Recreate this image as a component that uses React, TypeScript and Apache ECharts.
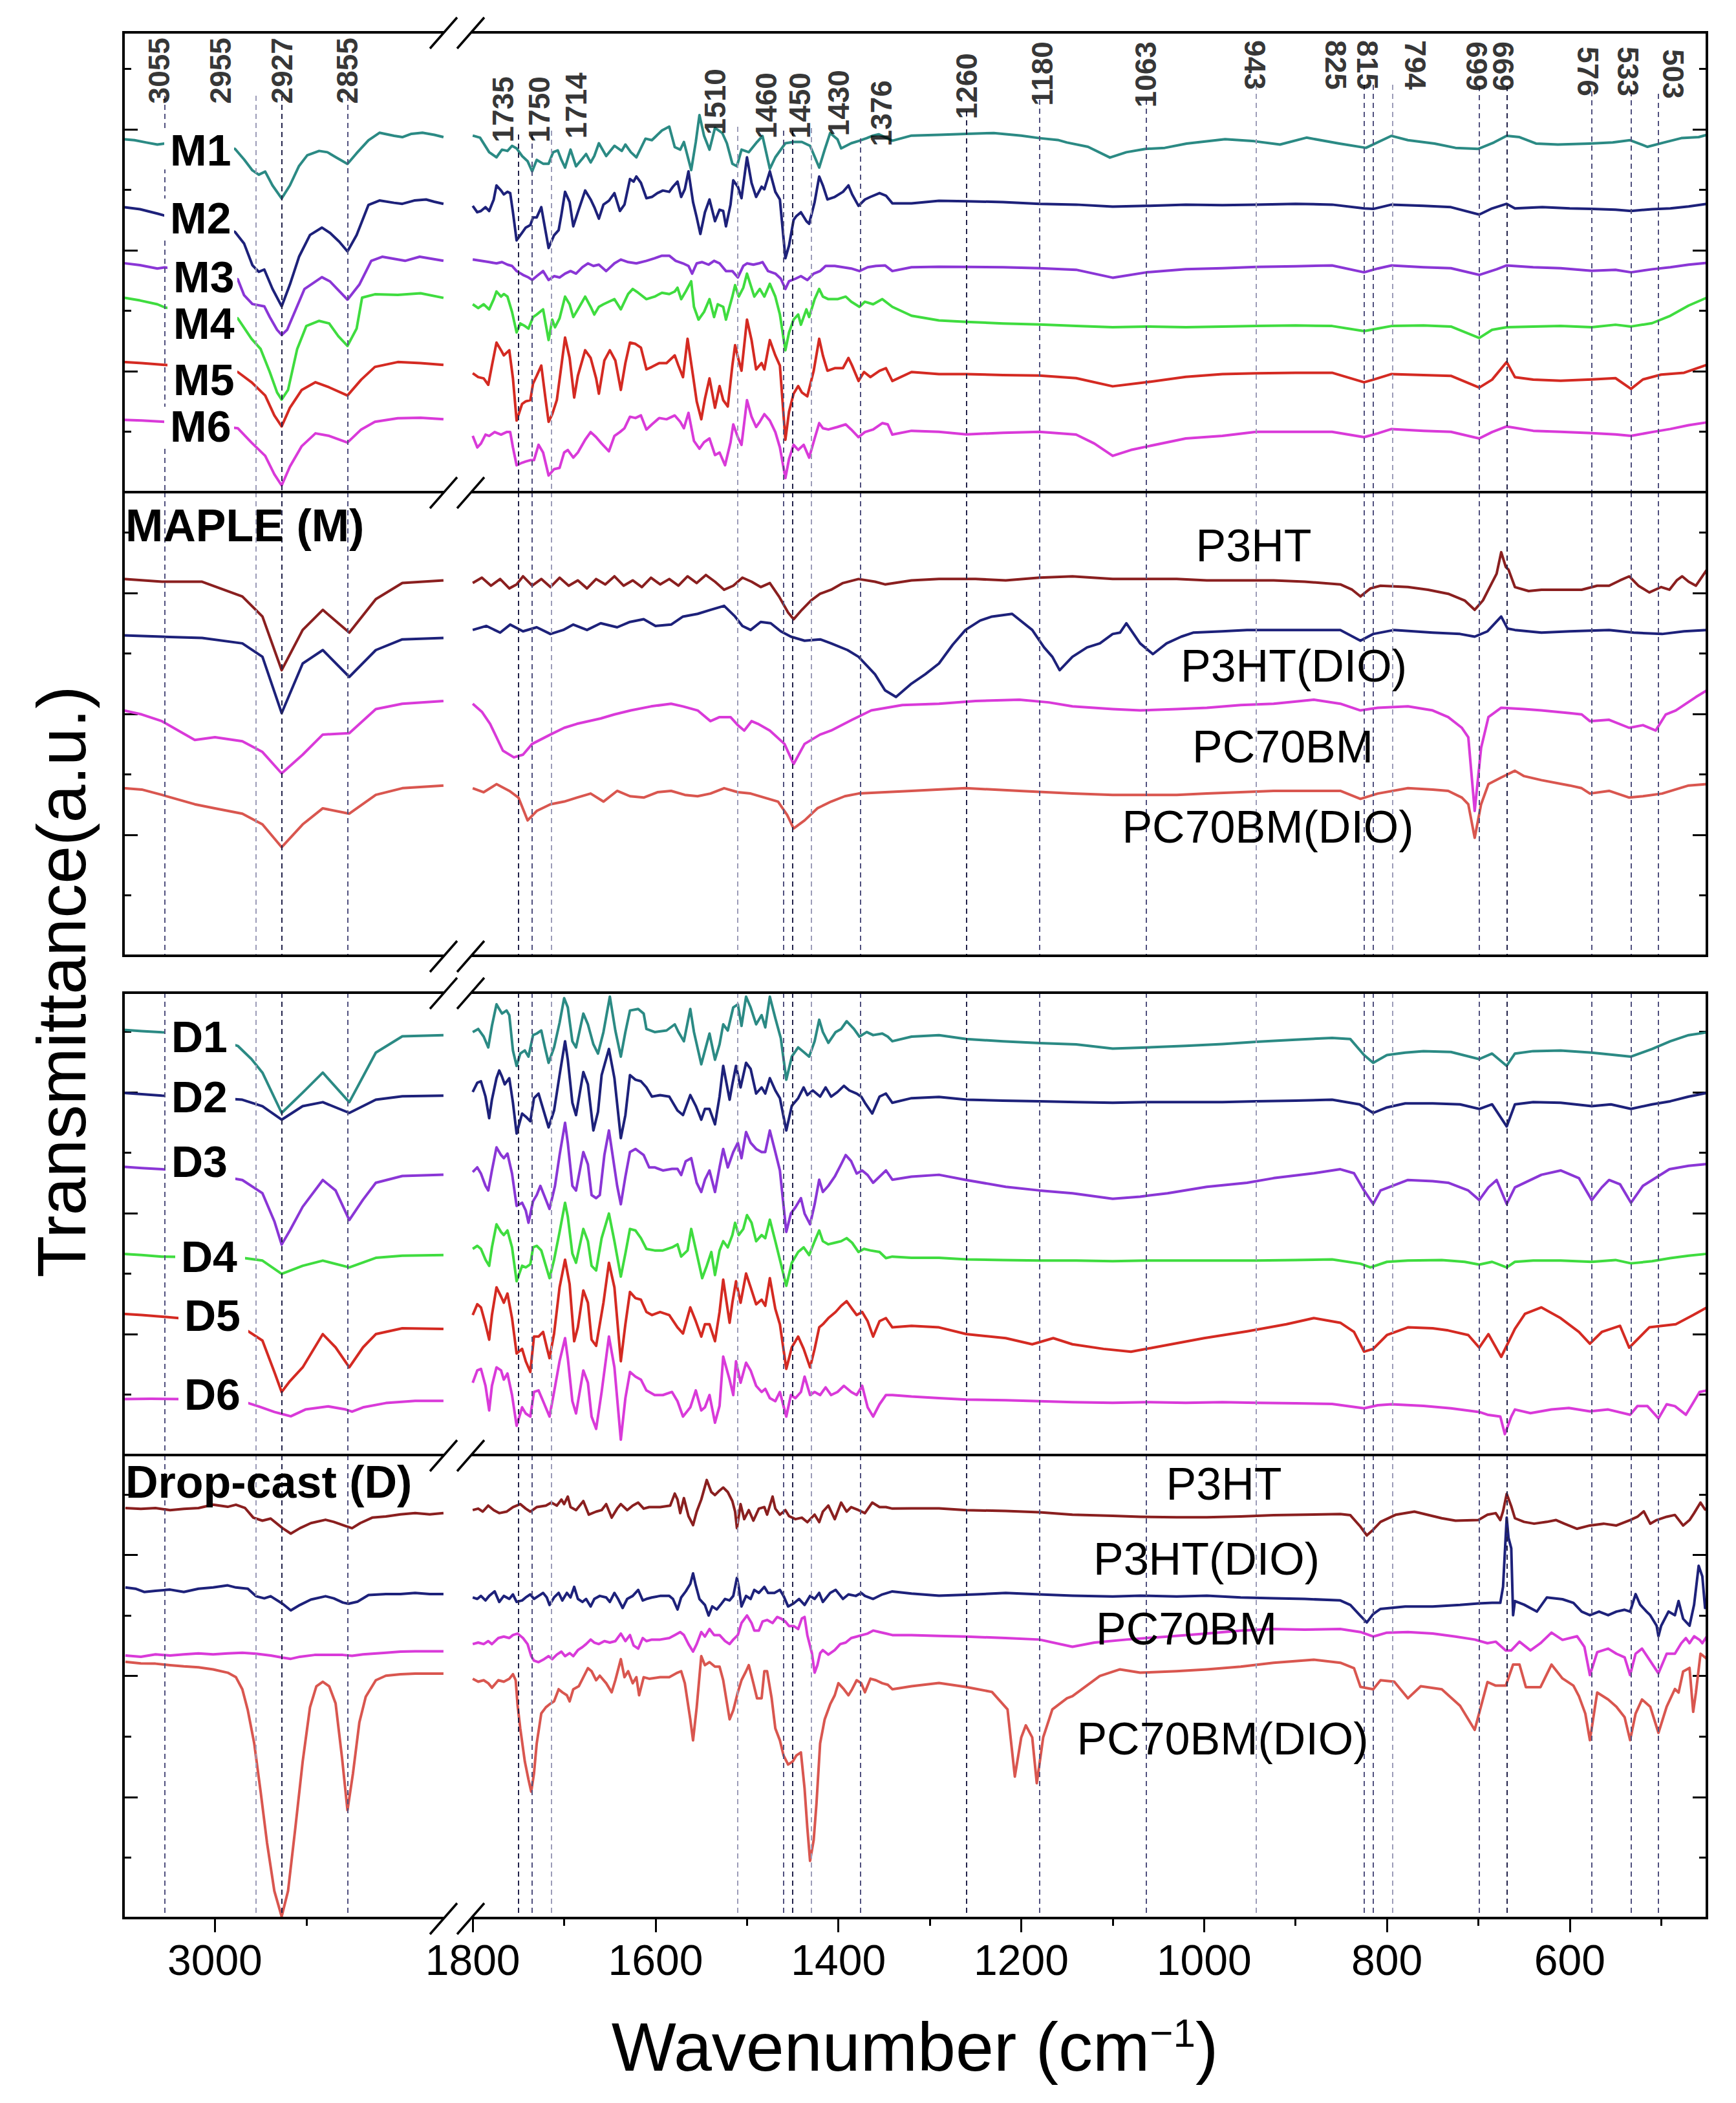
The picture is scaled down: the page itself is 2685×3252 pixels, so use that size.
import React, { useEffect, useRef } from "react";
import * as echarts from "echarts";

const W = 2685;
const H = 3252;
const FONT = "Liberation Sans, Arial, sans-serif";
const NARROW = "'Liberation Sans Narrow', 'Liberation Sans', Arial, sans-serif";

// ---------- axis break: left segment 3100-2750, right segment 1800-450 ----------
const GAP_SHIFT = 918;
const xv = (w: number) => (w > 2000 ? w : w + GAP_SHIFT);
const X_MIN = xv(450);
const X_MAX = 3100;

const majorTicks = [3000, 1800, 1600, 1400, 1200, 1000, 800, 600];
const minorTicks = [2900, 1700, 1500, 1300, 1100, 900, 700, 500];

// ---------- peak guide lines and labels ----------
const peakLines = [3055, 2955, 2927, 2855, 1750, 1735, 1714, 1510, 1460, 1450, 1430, 1376, 1260, 1180, 1063, 943, 825, 815, 794, 699, 669, 576, 533, 503];
const peakTone = ["m", "l", "d", "m", "d", "m", "l", "l", "m", "d", "l", "m", "d", "m", "m", "l", "m", "m", "l", "m", "d", "m", "m", "m"];
const peakLabelText = ["3055", "2955", "2927", "2855", "1735", "1750", "1714", "1510", "1460", "1450", "1430", "1376", "1260", "1180", "1063", "943", "825", "815", "794", "699", "669", "576", "533", "503"];
const peakLabelPos = [3061, 2994, 2927, 2855, 1767, 1727, 1687, 1535, 1479, 1442, 1400, 1353, 1260, 1177, 1064, 944, 856, 821, 769, 702, 673, 580, 536, 487];
const peakLabelTop = [58, 58, 58, 58, 118, 118, 112, 106, 112, 112, 108, 124, 82, 64, 64, 62, 62, 62, 62, 64, 64, 72, 72, 76];
const peakLabelDown = [0, 0, 0, 0, 0, 0, 0, 0, 0, 0, 0, 0, 0, 0, 0, 1, 1, 1, 1, 1, 1, 1, 1, 1];

// ---------- panel P0 : MAPLE samples M1..M6 ----------
const M1_L = [[3100,1381],[3088,1377],[3075,1368],[3063,1360],[3055,1364],[3020,1355],[2978,1343],[2968,1301],[2959,1259],[2952,1242],[2945,1254],[2937,1200],[2927,1149],[2918,1200],[2908,1276],[2899,1318],[2886,1335],[2877,1330],[2867,1309],[2855,1284],[2845,1326],[2832,1377],[2820,1406],[2804,1394],[2795,1389],[2785,1402],[2773,1406],[2760,1398],[2750,1389]];
const M1_R = [[1800,1395],[1792,1387],[1782,1330],[1774,1310],[1768,1340],[1762,1335],[1757,1355],[1752,1345],[1746,1315],[1740,1295],[1735,1255],[1730,1300],[1723,1285],[1717,1285],[1712,1330],[1707,1337],[1703,1300],[1699,1270],[1693,1340],[1687,1275],[1680,1305],[1676,1323],[1671,1290],[1667,1315],[1662,1365],[1654,1315],[1645,1355],[1637,1335],[1633,1360],[1627,1330],[1621,1310],[1611,1383],[1604,1377],[1593,1415],[1585,1430],[1579,1350],[1573,1340],[1569,1370],[1561,1260],[1556,1370],[1552,1475],[1547,1395],[1541,1340],[1535,1425],[1527,1405],[1522,1365],[1516,1285],[1511,1275],[1506,1340],[1498,1330],[1489,1370],[1483,1393],[1475,1265],[1469,1310],[1458,1365],[1449,1370],[1440,1370],[1431,1355],[1421,1270],[1415,1340],[1409,1405],[1401,1380],[1397,1345],[1386,1365],[1377,1375],[1369,1385],[1362,1395],[1356,1400],[1348,1387],[1341,1375],[1320,1395],[1290,1398],[1260,1402],[1230,1405],[1200,1395],[1180,1385],[1160,1378],[1150,1368],[1127,1351],[1103,1309],[1085,1330],[1064,1343],[1043,1347],[1019,1364],[977,1381],[945,1373],[917,1360],[888,1387],[852,1364],[823,1347],[795,1394],[777,1377],[748,1364],[725,1347],[700,1343],[683,1368],[669,1394],[655,1389],[637,1364],[613,1360],[578,1364],[553,1368],[534,1377],[515,1351],[497,1368],[478,1385],[459,1389],[450,1398]];

const M2_L = [[3100,1115],[3082,1107],[3063,1090],[3055,1082],[3020,1060],[2978,1018],[2968,972],[2959,888],[2952,862],[2946,871],[2937,795],[2927,727],[2918,812],[2908,921],[2896,1006],[2883,1035],[2874,1014],[2864,980],[2855,942],[2845,1006],[2832,1124],[2820,1141],[2804,1132],[2795,1128],[2782,1141],[2769,1145],[2760,1136],[2750,1128]];
const M2_R = [[1800,1120],[1795,1095],[1791,1100],[1786,1115],[1782,1100],[1777,1145],[1774,1200],[1769,1180],[1766,1165],[1762,1175],[1759,1170],[1756,1095],[1752,985],[1746,1015],[1742,1035],[1737,1045],[1734,1075],[1730,1075],[1725,1115],[1720,1015],[1717,955],[1711,1005],[1706,1025],[1703,1085],[1699,1175],[1694,1135],[1690,1040],[1685,1095],[1677,1180],[1671,1145],[1667,1115],[1662,1070],[1657,1125],[1651,1140],[1645,1170],[1639,1100],[1634,1125],[1628,1225],[1624,1215],[1621,1235],[1616,1210],[1610,1150],[1604,1155],[1598,1170],[1592,1180],[1585,1175],[1581,1195],[1576,1215],[1572,1155],[1568,1185],[1564,1255],[1559,1135],[1555,1075],[1551,1010],[1546,1095],[1541,1145],[1535,1060],[1530,1105],[1526,1100],[1523,1040],[1518,1125],[1515,1220],[1510,1195],[1506,1150],[1500,1310],[1495,1210],[1490,1155],[1484,1195],[1481,1185],[1475,1255],[1469,1175],[1464,1145],[1458,915],[1454,965],[1449,1065],[1446,1080],[1441,1095],[1435,1060],[1432,1050],[1426,1135],[1421,1235],[1417,1200],[1412,1145],[1404,1155],[1395,1175],[1389,1200],[1385,1165],[1378,1120],[1371,1145],[1365,1155],[1355,1170],[1348,1160],[1341,1130],[1320,1130],[1290,1140],[1260,1138],[1220,1135],[1180,1128],[1140,1125],[1100,1117],[1063,1120],[1020,1125],[980,1123],[943,1125],[900,1128],[860,1125],[825,1110],[815,1108],[795,1125],[760,1120],[730,1115],[699,1086],[685,1110],[669,1128],[660,1110],[630,1115],[600,1110],[576,1108],[550,1105],[533,1100],[510,1107],[490,1110],[470,1118],[450,1128]];

const M3_L = [[3100,896],[3082,888],[3063,875],[3055,879],[3020,862],[2975,833],[2968,770],[2959,736],[2946,727],[2940,685],[2932,635],[2927,615],[2921,635],[2911,719],[2902,795],[2883,841],[2874,824],[2855,753],[2842,812],[2829,905],[2817,921],[2792,905],[2776,921],[2750,905]];
const M3_R = [[1800,910],[1791,905],[1782,900],[1774,895],[1768,900],[1762,890],[1757,885],[1752,865],[1745,850],[1739,840],[1735,830],[1730,845],[1723,865],[1717,830],[1711,845],[1705,840],[1699,855],[1693,865],[1687,855],[1680,880],[1674,895],[1668,885],[1662,890],[1654,865],[1645,895],[1638,910],[1630,900],[1621,895],[1610,905],[1601,915],[1593,925],[1585,925],[1578,905],[1570,895],[1564,885],[1560,855],[1555,895],[1549,900],[1542,890],[1536,905],[1530,895],[1523,865],[1516,865],[1510,840],[1504,885],[1500,895],[1493,890],[1487,895],[1483,900],[1477,865],[1469,855],[1463,835],[1458,795],[1454,825],[1447,835],[1441,845],[1434,830],[1427,855],[1420,865],[1414,885],[1404,885],[1395,880],[1386,875],[1377,865],[1368,880],[1359,885],[1349,887],[1341,865],[1320,880],[1290,882],[1260,881],[1220,880],[1180,876],[1140,870],[1100,839],[1063,860],[1020,872],[980,876],[943,881],[900,884],[860,887],[825,860],[810,875],[795,887],[760,880],[730,876],[699,850],[680,872],[669,887],[640,880],[610,876],[576,866],[550,870],[533,860],[510,872],[490,880],[470,890],[450,897]];

const M4_L = [[3100,761],[3082,750],[3063,735],[3055,723],[3020,700],[2975,680],[2960,600],[2950,560],[2940,470],[2932,390],[2927,362],[2920,400],[2910,560],[2900,650],[2886,670],[2875,660],[2865,610],[2855,572],[2845,640],[2839,761],[2825,774],[2800,772],[2775,778],[2750,760]];
const M4_R = [[1800,735],[1794,720],[1788,735],[1782,715],[1777,755],[1774,785],[1769,765],[1766,775],[1762,765],[1757,705],[1752,625],[1748,660],[1743,650],[1739,640],[1734,685],[1730,695],[1723,715],[1720,655],[1717,595],[1713,675],[1710,645],[1705,680],[1699,765],[1694,735],[1690,685],[1685,715],[1677,765],[1671,725],[1667,695],[1662,725],[1657,735],[1651,745],[1645,755],[1638,715],[1630,775],[1625,795],[1619,780],[1610,755],[1601,765],[1593,780],[1585,775],[1579,785],[1576,800],[1572,755],[1567,785],[1561,825],[1558,725],[1553,675],[1547,705],[1541,755],[1536,685],[1532,735],[1526,725],[1523,675],[1516,765],[1513,810],[1509,765],[1504,800],[1500,855],[1496,810],[1492,765],[1486,795],[1481,765],[1475,815],[1469,765],[1464,695],[1458,555],[1454,625],[1449,675],[1444,695],[1441,655],[1435,715],[1432,685],[1426,755],[1421,795],[1417,765],[1411,755],[1401,755],[1392,765],[1386,745],[1377,725],[1371,745],[1362,735],[1352,755],[1341,725],[1320,690],[1290,672],[1260,666],[1220,660],[1180,656],[1140,650],[1100,645],[1063,648],[1020,645],[980,648],[943,650],[900,652],[860,650],[825,630],[810,640],[795,650],[760,652],[730,648],[699,603],[685,635],[669,645],[640,648],[610,650],[576,645],[550,655],[533,648],[510,661],[490,690],[470,730],[450,761]];

const M5_L = [[3100,509],[3080,505],[3055,498],[3020,490],[2975,470],[2960,430],[2945,378],[2935,300],[2927,257],[2918,330],[2905,400],[2890,430],[2875,410],[2855,378],[2840,440],[2825,490],[2800,509],[2775,505],[2750,498]];
const M5_R = [[1800,465],[1794,450],[1788,445],[1783,420],[1779,495],[1774,585],[1769,555],[1766,535],[1760,555],[1756,445],[1752,280],[1746,345],[1742,355],[1737,360],[1734,425],[1730,455],[1725,495],[1720,355],[1717,275],[1713,305],[1708,360],[1703,495],[1699,605],[1694,525],[1689,370],[1685,455],[1677,555],[1671,525],[1665,445],[1662,385],[1656,515],[1650,555],[1644,515],[1638,400],[1633,505],[1628,585],[1622,580],[1616,565],[1610,480],[1604,490],[1596,505],[1588,505],[1579,535],[1575,495],[1570,450],[1565,600],[1559,455],[1555,355],[1550,285],[1546,365],[1541,445],[1535,330],[1530,415],[1526,360],[1521,335],[1516,495],[1513,575],[1509,515],[1506,475],[1500,675],[1495,595],[1490,480],[1484,505],[1481,480],[1475,595],[1469,535],[1464,495],[1458,205],[1454,315],[1449,385],[1444,415],[1440,390],[1434,375],[1427,475],[1421,600],[1417,535],[1412,475],[1404,485],[1395,485],[1389,525],[1385,495],[1378,435],[1372,470],[1365,450],[1355,475],[1348,485],[1341,435],[1320,470],[1290,462],[1260,462],[1220,458],[1180,456],[1140,446],[1100,414],[1063,430],[1020,451],[980,462],[943,465],[900,467],[860,467],[825,430],[815,440],[795,462],[760,458],[730,455],[699,409],[685,440],[669,509],[660,450],[640,440],[610,436],[576,441],[550,446],[533,404],[520,441],[500,460],[475,467],[450,498]];

const M6_L = [[3100,283],[3080,280],[3055,275],[3020,270],[2975,250],[2960,194],[2945,142],[2935,70],[2927,26],[2918,100],[2905,180],[2890,230],[2875,220],[2855,194],[2840,245],[2825,275],[2800,289],[2775,291],[2750,285]];
const M6_R = [[1800,220],[1795,175],[1791,190],[1786,225],[1782,220],[1776,235],[1769,225],[1763,235],[1759,235],[1756,175],[1752,105],[1746,115],[1742,120],[1737,125],[1733,125],[1728,185],[1723,155],[1717,65],[1711,90],[1705,95],[1700,155],[1696,165],[1690,135],[1685,155],[1677,205],[1671,235],[1665,215],[1659,190],[1651,160],[1645,220],[1639,235],[1634,250],[1628,295],[1622,290],[1616,300],[1610,245],[1604,265],[1596,290],[1588,285],[1579,300],[1573,275],[1569,250],[1564,310],[1558,200],[1552,170],[1547,195],[1541,210],[1535,145],[1530,155],[1524,105],[1518,195],[1515,265],[1510,215],[1506,185],[1500,360],[1495,295],[1490,255],[1486,275],[1481,305],[1475,280],[1469,235],[1464,175],[1458,55],[1454,130],[1449,185],[1444,165],[1438,185],[1432,135],[1426,210],[1421,270],[1417,250],[1411,245],[1401,255],[1392,265],[1386,245],[1378,215],[1371,235],[1362,245],[1352,270],[1346,265],[1341,225],[1320,240],[1290,236],[1260,226],[1220,232],[1180,236],[1140,225],[1120,190],[1100,142],[1080,165],[1063,178],[1020,210],[980,220],[943,236],[900,236],[860,236],[825,215],[810,230],[795,247],[760,240],[730,236],[699,210],[685,235],[669,257],[640,240],[610,236],[576,231],[550,226],[533,220],[510,235],[490,247],[470,262],[450,273]];

// ---------- panel P1 : MAPLE references ----------
const MP3HT_L = [[3100,281],[3058,279],[3014,279],[2970,268],[2948,253],[2927,213],[2904,243],[2882,258],[2853,241],[2824,266],[2795,278],[2750,280]];
const MP3HT_R = [[1800,278],[1790,282],[1780,276],[1770,281],[1760,274],[1752,277],[1745,283],[1735,276],[1725,281],[1715,275],[1705,282],[1695,276],[1685,280],[1675,274],[1665,281],[1655,277],[1645,283],[1635,276],[1625,280],[1615,275],[1605,282],[1595,277],[1585,281],[1575,276],[1565,283],[1555,278],[1545,284],[1535,279],[1525,273],[1515,276],[1505,282],[1495,279],[1485,275],[1475,278],[1465,268],[1455,256],[1449,251],[1440,258],[1430,265],[1420,270],[1408,273],[1395,278],[1378,281],[1360,279],[1349,277],[1320,280],[1290,281],[1250,281],[1217,280],[1180,282],[1144,283],[1100,281],[1070,281],[1030,281],[997,280],[960,280],[924,280],[890,279],[851,277],[838,273],[829,268],[818,274],[807,276],[777,275],[755,273],[733,270],[715,265],[704,258],[695,265],[689,273],[680,285],[675,301],[670,290],[667,288],[660,275],[645,272],[631,273],[610,273],[587,273],[570,276],[557,276],[545,280],[535,283],[525,276],[513,271],[500,275],[491,273],[483,280],[477,283],[470,279],[462,276],[455,283],[450,288]];
const MP3HTDIO_L = [[3100,239],[3058,238],[3014,237],[2970,233],[2948,223],[2927,181],[2904,218],[2882,228],[2853,208],[2824,228],[2795,236],[2750,237]];
const MP3HTDIO_R = [[1800,243],[1785,246],[1770,241],[1759,247],[1745,242],[1730,245],[1715,240],[1701,243],[1690,247],[1675,243],[1660,248],[1642,245],[1628,249],[1613,251],[1600,246],[1583,247],[1570,253],[1554,255],[1540,258],[1525,261],[1513,253],[1505,246],[1496,243],[1485,249],[1474,248],[1463,242],[1452,238],[1437,235],[1420,236],[1408,233],[1390,228],[1378,223],[1360,210],[1349,198],[1337,193],[1320,203],[1305,210],[1290,218],[1275,232],[1261,243],[1245,250],[1232,253],[1210,255],[1188,243],[1175,230],[1166,223],[1158,213],[1144,223],[1128,230],[1114,233],[1100,240],[1092,241],[1085,248],[1070,233],[1056,225],[1041,233],[1025,238],[1012,241],[980,242],[953,243],[900,243],[851,243],[829,235],[815,240],[792,243],[750,241],[720,240],[704,238],[690,242],[675,253],[668,244],[660,243],[631,241],[600,242],[557,243],[530,241],[499,240],[475,242],[450,243]];
const MPCBM_L = [[3100,183],[3080,180],[3058,175],[3040,168],[3022,161],[3000,163],[2970,160],[2948,152],[2927,136],[2904,150],[2882,165],[2853,166],[2824,184],[2795,188],[2750,190]];
const MPCBM_R = [[1800,188],[1790,182],[1781,173],[1767,153],[1755,148],[1745,150],[1735,158],[1715,165],[1700,170],[1686,173],[1660,177],[1645,180],[1627,183],[1605,186],[1583,188],[1570,186],[1554,183],[1540,175],[1530,178],[1518,178],[1510,172],[1503,168],[1495,175],[1488,173],[1475,168],[1459,158],[1449,143],[1437,158],[1420,165],[1408,168],[1385,176],[1364,183],[1330,187],[1290,188],[1250,190],[1202,191],[1170,189],[1144,186],[1100,184],[1070,183],[1030,184],[997,185],[960,187],[924,188],[880,191],[851,188],[829,183],[810,185],[777,186],[750,183],[733,178],[718,170],[711,163],[704,108],[697,155],[689,178],[675,185],[650,184],[631,183],[600,181],[587,180],[578,175],[557,176],[535,170],[520,172],[506,168],[495,180],[484,183],[462,193],[450,198]];
const MPCBMDIO_L = [[3100,125],[3080,124],[3058,120],[3022,113],[3000,110],[2970,106],[2948,98],[2927,81],[2904,98],[2882,110],[2853,106],[2824,120],[2795,125],[2750,127]];
const MPCBMDIO_R = [[1800,125],[1788,122],[1774,128],[1760,123],[1750,118],[1740,101],[1730,108],[1715,113],[1700,115],[1686,118],[1671,121],[1657,115],[1642,123],[1628,119],[1613,118],[1598,122],[1583,123],[1568,120],[1554,119],[1540,121],[1525,125],[1510,122],[1496,121],[1481,118],[1466,115],[1456,105],[1449,95],[1437,101],[1423,110],[1408,115],[1393,119],[1378,121],[1349,122],[1320,123],[1261,125],[1202,123],[1144,121],[1100,120],[1070,120],[1030,120],[997,121],[960,122],[924,123],[880,123],[851,123],[829,117],[810,121],[777,125],[750,124],[733,123],[718,118],[711,113],[704,88],[697,113],[689,128],[675,133],[660,138],[650,134],[631,131],[600,127],[587,125],[578,121],[557,123],[535,118],[520,119],[499,121],[470,127],[450,128]];

// ---------- panel P2 : drop-cast samples D1..D6 ----------
const D1_L = [[3100,1382],[3080,1378],[3058,1374],[3020,1370],[2975,1330],[2960,1287],[2948,1243],[2927,1112],[2904,1178],[2882,1243],[2853,1147],[2824,1308],[2795,1361],[2750,1365]];
const D1_R = [[1800,1375],[1794,1385],[1788,1360],[1783,1325],[1779,1395],[1774,1465],[1771,1450],[1768,1435],[1763,1445],[1760,1430],[1756,1315],[1752,1265],[1748,1305],[1743,1315],[1739,1295],[1734,1365],[1730,1370],[1725,1380],[1721,1325],[1717,1275],[1711,1325],[1705,1405],[1700,1485],[1696,1455],[1691,1345],[1687,1325],[1679,1435],[1674,1400],[1668,1335],[1663,1305],[1657,1375],[1650,1490],[1644,1380],[1638,1295],[1633,1375],[1628,1445],[1619,1450],[1613,1435],[1610,1385],[1601,1375],[1588,1380],[1579,1400],[1575,1375],[1569,1345],[1562,1450],[1558,1375],[1550,1270],[1546,1315],[1541,1370],[1535,1285],[1530,1335],[1526,1400],[1521,1380],[1515,1455],[1510,1465],[1506,1395],[1501,1490],[1496,1455],[1490,1400],[1484,1430],[1480,1390],[1475,1490],[1469,1420],[1463,1355],[1457,1220],[1451,1295],[1444,1325],[1438,1310],[1432,1295],[1426,1345],[1421,1415],[1417,1375],[1411,1340],[1403,1375],[1397,1385],[1391,1410],[1383,1385],[1377,1360],[1369,1375],[1362,1365],[1352,1370],[1346,1360],[1341,1345],[1320,1360],[1290,1365],[1260,1352],[1220,1345],[1180,1339],[1140,1335],[1100,1321],[1063,1325],[1020,1330],[980,1336],[943,1343],[900,1350],[860,1356],[840,1352],[825,1300],[815,1275],[800,1300],[780,1308],[760,1313],[730,1310],[699,1287],[685,1305],[669,1265],[660,1305],[640,1313],[610,1315],[576,1308],[550,1300],[533,1295],[510,1320],[490,1345],[470,1365],[450,1374]];
const D2_L = [[3100,1177],[3080,1173],[3058,1168],[3020,1165],[2970,1155],[2948,1134],[2927,1090],[2904,1134],[2882,1147],[2853,1112],[2824,1155],[2795,1166],[2750,1168]];
const D2_R = [[1800,1180],[1795,1210],[1791,1215],[1786,1165],[1782,1095],[1779,1155],[1774,1225],[1771,1250],[1768,1230],[1765,1205],[1760,1225],[1756,1145],[1752,1045],[1746,1110],[1742,1100],[1737,1085],[1733,1160],[1728,1175],[1724,1135],[1717,1065],[1711,1120],[1705,1235],[1699,1345],[1696,1285],[1691,1145],[1687,1105],[1679,1245],[1674,1205],[1668,1055],[1663,1115],[1659,1235],[1651,1320],[1645,1225],[1638,1030],[1633,1105],[1628,1235],[1622,1220],[1616,1215],[1610,1195],[1604,1165],[1595,1170],[1585,1165],[1576,1120],[1570,1105],[1562,1170],[1556,1135],[1550,1090],[1546,1125],[1541,1125],[1535,1075],[1530,1165],[1526,1265],[1519,1155],[1516,1205],[1512,1265],[1507,1195],[1501,1275],[1496,1255],[1490,1175],[1484,1195],[1480,1175],[1475,1225],[1469,1185],[1464,1160],[1457,1055],[1451,1135],[1444,1160],[1438,1195],[1434,1170],[1428,1185],[1420,1165],[1414,1195],[1408,1165],[1401,1180],[1394,1200],[1388,1185],[1380,1175],[1375,1165],[1371,1145],[1363,1110],[1355,1165],[1348,1175],[1341,1145],[1320,1160],[1290,1164],[1260,1155],[1220,1152],[1180,1150],[1140,1147],[1100,1145],[1063,1147],[1020,1147],[980,1147],[943,1150],[900,1152],[860,1155],[830,1140],[815,1112],[800,1130],[780,1143],[750,1143],[720,1140],[699,1125],[685,1140],[669,1068],[660,1140],[640,1147],[610,1145],[576,1134],[555,1140],[533,1125],[510,1140],[490,1150],[470,1165],[450,1177]];
const D3_L = [[3100,937],[3080,933],[3058,929],[3020,920],[2970,894],[2948,851],[2935,760],[2927,684],[2918,730],[2904,807],[2882,894],[2868,860],[2853,764],[2838,830],[2824,885],[2795,907],[2750,911]];
const D3_R = [[1800,920],[1795,935],[1791,915],[1786,875],[1783,860],[1779,925],[1774,1000],[1769,975],[1766,965],[1762,980],[1757,915],[1752,810],[1746,820],[1742,795],[1739,755],[1734,825],[1730,845],[1726,875],[1722,845],[1716,800],[1710,875],[1705,975],[1699,1080],[1696,1015],[1691,875],[1687,860],[1679,985],[1674,945],[1670,845],[1665,835],[1661,845],[1656,975],[1651,1055],[1647,975],[1642,875],[1638,815],[1633,905],[1628,985],[1622,995],[1613,975],[1607,935],[1601,935],[1592,925],[1582,930],[1576,930],[1572,910],[1567,955],[1561,965],[1555,885],[1550,855],[1546,895],[1541,925],[1535,855],[1530,935],[1526,995],[1521,935],[1515,985],[1510,1015],[1506,965],[1501,1050],[1496,1015],[1490,995],[1484,985],[1480,985],[1475,1055],[1469,985],[1464,925],[1457,725],[1452,785],[1447,805],[1441,835],[1437,785],[1431,750],[1426,815],[1421,895],[1417,855],[1411,875],[1404,905],[1397,945],[1392,975],[1386,955],[1380,915],[1374,925],[1368,910],[1362,885],[1355,905],[1348,925],[1341,895],[1320,905],[1290,911],[1260,894],[1217,872],[1180,860],[1144,851],[1100,833],[1070,840],[1040,851],[997,872],[953,885],[924,900],[880,916],[851,929],[836,916],[825,860],[815,816],[807,860],[777,894],[750,890],[733,885],[711,860],[699,829],[689,870],[680,894],[669,816],[660,870],[631,911],[610,925],[590,900],[576,829],[565,870],[557,894],[545,880],[533,820],[520,875],[491,929],[470,940],[450,946]];
const D4_L = [[3100,654],[3080,650],[3058,645],[3020,643],[2970,641],[2948,632],[2927,589],[2904,615],[2882,632],[2853,610],[2824,641],[2795,648],[2750,650]];
const D4_R = [[1800,670],[1795,680],[1791,670],[1786,635],[1782,615],[1779,675],[1774,750],[1769,725],[1766,715],[1762,730],[1757,675],[1752,565],[1746,615],[1742,610],[1737,620],[1734,675],[1730,680],[1725,665],[1720,615],[1716,575],[1711,635],[1705,725],[1699,820],[1696,775],[1691,655],[1687,625],[1679,735],[1674,695],[1670,615],[1665,600],[1659,705],[1651,785],[1645,695],[1638,580],[1633,655],[1628,735],[1622,730],[1616,705],[1610,670],[1601,665],[1592,665],[1582,675],[1576,685],[1572,645],[1565,665],[1561,735],[1555,655],[1549,575],[1544,615],[1539,660],[1535,585],[1530,665],[1526,695],[1521,675],[1516,715],[1513,755],[1509,715],[1504,735],[1500,780],[1495,755],[1490,695],[1484,715],[1480,705],[1475,765],[1469,695],[1464,635],[1457,550],[1451,625],[1444,660],[1438,675],[1432,650],[1426,695],[1421,730],[1417,695],[1411,685],[1404,690],[1397,695],[1391,705],[1385,690],[1378,660],[1372,670],[1365,665],[1355,660],[1348,640],[1341,645],[1320,641],[1290,641],[1260,636],[1220,634],[1180,632],[1140,632],[1100,630],[1063,632],[1020,632],[980,632],[943,632],[900,634],[860,636],[829,622],[818,610],[800,628],[777,632],[740,634],[715,628],[699,619],[685,628],[669,610],[660,628],[640,632],[610,632],[576,628],[550,634],[533,623],[510,630],[490,640],[470,648],[450,654]];
const D5_L = [[3100,459],[3080,455],[3058,450],[3020,440],[2970,415],[2948,372],[2935,270],[2927,205],[2918,240],[2904,285],[2882,393],[2868,350],[2853,285],[2838,350],[2824,393],[2795,412],[2750,410]];
const D5_R = [[1800,455],[1795,490],[1791,480],[1786,425],[1782,375],[1779,455],[1774,545],[1769,515],[1766,495],[1762,525],[1757,445],[1752,330],[1746,345],[1742,305],[1737,270],[1733,385],[1728,385],[1723,400],[1719,350],[1716,315],[1711,395],[1705,545],[1699,635],[1694,555],[1689,370],[1685,415],[1679,535],[1674,495],[1670,375],[1665,355],[1657,495],[1651,625],[1645,545],[1638,305],[1633,425],[1628,530],[1622,510],[1616,505],[1610,465],[1604,455],[1595,465],[1585,455],[1576,415],[1570,395],[1562,480],[1556,435],[1550,385],[1546,425],[1541,425],[1535,370],[1530,465],[1526,570],[1519,430],[1516,495],[1512,565],[1507,495],[1501,590],[1496,545],[1490,490],[1484,505],[1480,485],[1475,575],[1469,475],[1464,425],[1457,280],[1451,350],[1444,385],[1438,345],[1431,285],[1426,345],[1421,415],[1417,425],[1411,445],[1403,465],[1397,485],[1391,500],[1385,475],[1380,455],[1374,465],[1368,435],[1362,385],[1355,435],[1348,445],[1341,415],[1320,420],[1290,415],[1260,393],[1217,380],[1188,360],[1165,380],[1144,360],[1110,345],[1080,336],[1056,349],[1000,380],[953,402],[910,425],[880,445],[851,430],[836,400],[825,336],[815,345],[800,390],[777,415],[750,412],[733,405],[711,390],[699,349],[689,393],[675,319],[660,410],[649,459],[631,480],[610,445],[590,400],[578,362],[565,400],[545,420],[535,349],[513,415],[484,425],[465,455],[450,480]];
const D6_L = [[3100,182],[3070,183],[3037,182],[3000,178],[2967,172],[2952,158],[2935,140],[2926,133],[2917,126],[2901,148],[2876,158],[2857,148],[2850,141],[2838,155],[2813,169],[2781,176],[2750,176]];
const D6_R = [[1800,235],[1795,275],[1791,280],[1786,225],[1782,145],[1779,225],[1774,285],[1769,275],[1766,245],[1762,265],[1757,195],[1752,95],[1746,155],[1742,135],[1737,125],[1733,205],[1728,210],[1723,175],[1716,125],[1711,205],[1705,305],[1699,380],[1696,315],[1691,175],[1687,135],[1679,275],[1674,235],[1670,125],[1665,85],[1659,205],[1651,385],[1645,285],[1638,50],[1633,185],[1628,270],[1622,255],[1616,245],[1610,210],[1601,195],[1592,195],[1582,205],[1576,175],[1570,125],[1562,155],[1556,210],[1550,145],[1546,155],[1541,195],[1535,105],[1530,160],[1526,320],[1519,245],[1515,195],[1512,305],[1507,235],[1501,300],[1496,275],[1490,225],[1484,205],[1480,215],[1475,185],[1469,175],[1464,205],[1457,125],[1452,195],[1447,185],[1441,205],[1437,255],[1431,195],[1426,205],[1420,195],[1414,220],[1408,195],[1401,205],[1394,225],[1386,205],[1380,195],[1374,225],[1368,155],[1362,125],[1355,165],[1348,195],[1341,195],[1320,190],[1290,185],[1260,180],[1217,178],[1180,175],[1144,172],[1100,170],[1063,172],[1020,170],[980,172],[943,170],[900,168],[860,166],[825,152],[810,162],[795,165],[760,160],[730,152],[699,140],[690,131],[676,125],[671,68],[664,125],[660,148],[643,136],[620,148],[601,153],[578,142],[558,148],[534,131],[526,159],[515,159],[503,119],[494,165],[485,159],[473,131],[466,165],[458,205],[450,210]];

// ---------- panel P3 : drop-cast references ----------
const DP3HT_L = [[3098,1362],[3081,1359],[3065,1362],[3049,1355],[3034,1359],[3018,1362],[3002,1373],[2986,1366],[2977,1373],[2967,1362],[2958,1330],[2948,1320],[2939,1327],[2926,1295],[2917,1277],[2907,1295],[2895,1312],[2879,1323],[2870,1316],[2857,1302],[2850,1295],[2841,1312],[2828,1330],[2813,1334],[2797,1341],[2781,1345],[2765,1341],[2750,1345]];
const DP3HT_R = [[1800,1355],[1794,1360],[1789,1350],[1783,1370],[1777,1355],[1771,1345],[1763,1350],[1756,1365],[1748,1375],[1742,1360],[1737,1350],[1730,1365],[1720,1370],[1714,1380],[1708,1370],[1703,1390],[1700,1375],[1696,1400],[1693,1365],[1687,1355],[1679,1385],[1673,1340],[1665,1350],[1659,1355],[1654,1375],[1648,1330],[1642,1360],[1638,1375],[1631,1355],[1625,1370],[1619,1380],[1613,1360],[1607,1365],[1595,1365],[1584,1370],[1579,1410],[1576,1390],[1573,1345],[1569,1395],[1564,1335],[1559,1305],[1555,1350],[1550,1390],[1544,1455],[1539,1415],[1535,1405],[1530,1420],[1526,1430],[1521,1415],[1516,1385],[1513,1350],[1511,1295],[1507,1375],[1503,1325],[1498,1355],[1493,1320],[1487,1360],[1481,1365],[1478,1340],[1472,1400],[1469,1360],[1464,1340],[1458,1355],[1454,1335],[1447,1325],[1440,1330],[1434,1315],[1426,1340],[1421,1315],[1417,1350],[1411,1370],[1404,1325],[1397,1380],[1391,1350],[1386,1365],[1378,1355],[1371,1345],[1363,1380],[1355,1365],[1348,1365],[1341,1360],[1320,1361],[1290,1361],[1260,1355],[1217,1352],[1180,1348],[1144,1340],[1100,1336],[1070,1333],[1030,1331],[997,1331],[960,1334],[924,1338],[890,1340],[851,1342],[840,1338],[829,1300],[822,1271],[815,1290],[807,1316],[790,1340],[770,1350],[740,1328],[725,1320],[700,1322],[690,1340],[681,1345],[676,1322],[673,1351],[669,1409],[664,1368],[660,1328],[650,1316],[639,1310],[625,1316],[615,1322],[606,1310],[592,1293],[578,1304],[563,1310],[549,1304],[534,1322],[526,1333],[519,1351],[512,1310],[505,1322],[494,1333],[485,1339],[476,1304],[469,1322],[464,1345],[457,1380],[452,1357],[450,1360]];
const DP3HTDIO_L = [[3098,1098],[3087,1094],[3077,1083],[3065,1087],[3049,1091],[3034,1083],[3018,1094],[3002,1098],[2986,1105],[2977,1098],[2964,1094],[2955,1069],[2946,1062],[2939,1069],[2926,1044],[2917,1022],[2907,1040],[2895,1058],[2879,1069],[2870,1062],[2860,1048],[2854,1044],[2844,1051],[2832,1073],[2813,1076],[2797,1076],[2781,1080],[2765,1076],[2750,1076]];
const DP3HTDIO_R = [[1800,1065],[1795,1060],[1791,1070],[1786,1055],[1782,1070],[1776,1085],[1771,1050],[1766,1070],[1760,1060],[1756,1075],[1752,1050],[1746,1055],[1742,1065],[1737,1075],[1733,1060],[1728,1070],[1723,1080],[1719,1065],[1716,1040],[1711,1065],[1706,1080],[1702,1055],[1697,1080],[1693,1065],[1689,1100],[1685,1060],[1680,1050],[1676,1060],[1671,1035],[1667,1060],[1661,1070],[1654,1065],[1650,1050],[1645,1080],[1641,1060],[1636,1030],[1631,1060],[1625,1070],[1619,1090],[1614,1055],[1610,1060],[1604,1065],[1595,1070],[1585,1070],[1581,1060],[1576,1025],[1572,1065],[1567,1085],[1562,1110],[1559,1145],[1556,1105],[1552,1060],[1546,1040],[1542,1005],[1538,1035],[1533,1025],[1529,1040],[1524,1060],[1519,1055],[1515,1070],[1511,1130],[1509,1100],[1506,1035],[1501,1070],[1496,1060],[1492,1090],[1487,1080],[1481,1100],[1477,1080],[1470,1080],[1464,1090],[1460,1070],[1455,1035],[1449,1045],[1443,1060],[1437,1040],[1431,1070],[1426,1060],[1421,1080],[1417,1050],[1409,1080],[1403,1090],[1395,1060],[1389,1075],[1381,1070],[1375,1080],[1371,1070],[1362,1060],[1352,1075],[1341,1085],[1320,1078],[1290,1071],[1250,1075],[1217,1080],[1180,1075],[1144,1071],[1100,1068],[1070,1071],[1030,1068],[997,1071],[960,1065],[924,1062],[890,1060],[851,1055],[840,1040],[829,1004],[822,982],[815,1010],[807,1027],[780,1035],[750,1035],[720,1040],[700,1045],[685,1047],[676,1047],[673,1100],[669,1330],[667,1263],[664,1228],[662,1006],[660,1053],[650,1041],[636,1018],[625,1065],[608,1059],[596,1047],[587,1018],[578,1006],[568,1018],[558,1006],[549,1018],[540,1024],[534,1018],[528,1076],[523,1041],[516,1018],[512,1006],[505,971],[503,936],[500,971],[492,1018],[485,1006],[481,1053],[476,994],[469,971],[464,1041],[459,1170],[455,1135],[452,1030],[450,1050]];
const DPCBM_L = [[3098,872],[3081,868],[3065,876],[3049,872],[3034,876],[3018,879],[3002,876],[2986,879],[2970,881],[2955,878],[2939,872],[2926,865],[2917,861],[2907,868],[2891,874],[2876,874],[2860,874],[2850,871],[2838,876],[2813,881],[2797,885],[2781,886],[2750,886]];
const DPCBM_R = [[1800,910],[1794,915],[1788,910],[1783,920],[1779,910],[1772,930],[1766,935],[1760,930],[1756,940],[1751,945],[1745,930],[1740,910],[1736,870],[1733,855],[1728,850],[1722,860],[1717,870],[1713,860],[1708,875],[1703,885],[1699,870],[1694,880],[1690,870],[1685,890],[1680,900],[1676,910],[1671,925],[1667,915],[1662,910],[1656,920],[1650,915],[1644,920],[1638,945],[1633,920],[1628,940],[1624,905],[1619,895],[1614,930],[1610,920],[1604,925],[1595,925],[1585,930],[1579,940],[1573,950],[1569,940],[1564,910],[1559,885],[1555,910],[1550,950],[1546,935],[1541,960],[1536,940],[1530,940],[1524,920],[1519,910],[1515,925],[1510,940],[1506,980],[1500,1005],[1495,980],[1492,955],[1487,955],[1483,985],[1478,990],[1472,980],[1467,1000],[1463,995],[1458,985],[1454,970],[1449,970],[1444,960],[1440,995],[1437,1000],[1434,940],[1429,880],[1426,815],[1423,840],[1420,880],[1417,890],[1411,875],[1404,890],[1398,910],[1392,915],[1386,930],[1380,935],[1374,940],[1368,945],[1362,955],[1355,950],[1348,945],[1341,940],[1320,940],[1290,937],[1260,935],[1217,930],[1180,925],[1144,901],[1120,915],[1085,925],[1040,935],[997,945],[960,955],[924,960],[890,958],[851,960],[829,950],[815,935],[800,948],[777,950],[750,945],[725,935],[704,925],[690,913],[681,918],[670,889],[664,889],[655,918],[643,889],[632,913],[620,948],[608,924],[592,936],[584,901],[578,807],[570,883],[558,895],[549,878],[540,866],[534,807],[528,878],[521,895],[512,854],[503,813],[494,878],[485,878],[478,913],[473,930],[469,913],[464,936],[458,924],[455,913],[450,936]];
const DPCBMDIO_L = [[3098,851],[3081,846],[3065,845],[3049,840],[3034,836],[3018,833],[3002,826],[2986,815],[2977,800],[2970,760],[2964,690],[2957,580],[2950,420],[2943,250],[2935,90],[2927,5],[2920,90],[2912,300],[2904,520],[2896,700],[2889,770],[2882,785],[2875,770],[2868,713],[2861,534],[2855,358],[2849,480],[2842,650],[2835,735],[2824,790],[2813,805],[2797,810],[2781,812],[2750,812]];
const DPCBMDIO_R = [[1800,795],[1794,785],[1788,790],[1783,780],[1779,765],[1772,790],[1766,785],[1760,795],[1756,810],[1753,790],[1751,710],[1748,630],[1743,520],[1739,460],[1736,420],[1733,480],[1730,580],[1725,680],[1720,700],[1716,710],[1711,720],[1706,760],[1702,750],[1697,740],[1694,720],[1690,760],[1684,770],[1679,800],[1674,830],[1670,820],[1665,790],[1661,805],[1654,780],[1648,750],[1644,790],[1638,860],[1634,800],[1630,820],[1625,780],[1621,800],[1618,740],[1613,800],[1607,795],[1595,800],[1585,800],[1576,815],[1572,820],[1568,780],[1562,660],[1559,590],[1555,700],[1550,870],[1546,840],[1541,850],[1535,835],[1530,835],[1526,790],[1519,660],[1515,690],[1510,750],[1506,790],[1501,820],[1498,840],[1493,780],[1489,730],[1484,730],[1481,820],[1478,820],[1473,730],[1469,630],[1464,590],[1460,540],[1455,510],[1450,520],[1446,540],[1441,550],[1437,430],[1434,300],[1431,190],[1427,260],[1424,380],[1420,580],[1415,660],[1409,710],[1404,740],[1400,780],[1394,760],[1389,740],[1385,760],[1380,790],[1375,780],[1371,750],[1365,795],[1359,790],[1352,780],[1346,775],[1341,760],[1320,770],[1290,781],[1261,768],[1232,751],[1215,693],[1207,470],[1200,600],[1195,640],[1188,600],[1183,448],[1176,600],[1166,693],[1150,730],[1144,737],[1114,804],[1092,826],[1070,815],[1030,820],[997,826],[960,835],[924,848],[880,858],[851,848],[836,830],[829,768],[815,760],[807,790],[792,785],[777,730],[763,770],[740,760],[720,705],[704,625],[690,784],[681,772],[670,772],[662,842],[655,842],[648,767],[632,767],[620,842],[608,796],[596,772],[590,737],[583,679],[578,591],[570,749],[558,726],[549,702],[540,667],[534,591],[528,679],[521,726],[512,702],[503,615],[494,702],[485,761],[481,749],[476,819],[469,831],[465,685],[462,749],[457,878],[452,866],[450,860]];

// ---------- colours ----------
const C_TEAL = "#2b8a84";
const C_NAVY = "#1d217a";
const C_PURPLE = "#8a36d6";
const C_GREEN = "#3fdc3f";
const C_RED = "#d42a22";
const C_MAGENTA = "#d93ad9";
const C_MAROON = "#8a1f1f";
const C_SALMON = "#d9564f";

// ---------- layout (pixels) ----------
const FRAME_L = 191;
const FRAME_R = 2640;
const panelTop = [50, 761, 1535, 2250];
const panelBottom = [761, 1478, 2250, 2966];
const panelMax = [1799, 345.8, 1503, 1538];
const tickStep = [473, 90.2, 393, 402];
const P0_SCALE = 2.53; // panel P0 value units per pixel
const PEAK_FONT = 46;
const CURVE_WIDTH = 4;

type Spec = { grid: number; color: string; L: number[][]; R: number[][] };
const spectra: Spec[] = [
  { grid: 0, color: C_TEAL, L: M1_L, R: M1_R },
  { grid: 0, color: C_NAVY, L: M2_L, R: M2_R },
  { grid: 0, color: C_PURPLE, L: M3_L, R: M3_R },
  { grid: 0, color: C_GREEN, L: M4_L, R: M4_R },
  { grid: 0, color: C_RED, L: M5_L, R: M5_R },
  { grid: 0, color: C_MAGENTA, L: M6_L, R: M6_R },
  { grid: 1, color: C_MAROON, L: MP3HT_L, R: MP3HT_R },
  { grid: 1, color: C_NAVY, L: MP3HTDIO_L, R: MP3HTDIO_R },
  { grid: 1, color: C_MAGENTA, L: MPCBM_L, R: MPCBM_R },
  { grid: 1, color: C_SALMON, L: MPCBMDIO_L, R: MPCBMDIO_R },
  { grid: 2, color: C_TEAL, L: D1_L, R: D1_R },
  { grid: 2, color: C_NAVY, L: D2_L, R: D2_R },
  { grid: 2, color: C_PURPLE, L: D3_L, R: D3_R },
  { grid: 2, color: C_GREEN, L: D4_L, R: D4_R },
  { grid: 2, color: C_RED, L: D5_L, R: D5_R },
  { grid: 2, color: C_MAGENTA, L: D6_L, R: D6_R },
  { grid: 3, color: C_MAROON, L: DP3HT_L, R: DP3HT_R },
  { grid: 3, color: C_NAVY, L: DP3HTDIO_L, R: DP3HTDIO_R },
  { grid: 3, color: C_MAGENTA, L: DPCBM_L, R: DPCBM_R },
  { grid: 3, color: C_SALMON, L: DPCBMDIO_L, R: DPCBMDIO_R },
];

const sampleLabels = [
  { t: "M1", x: 263, y: 232 }, { t: "M2", x: 263, y: 337 }, { t: "M3", x: 268, y: 428 },
  { t: "M4", x: 268, y: 500 }, { t: "M5", x: 268, y: 587 }, { t: "M6", x: 263, y: 659 },
  { t: "D1", x: 265, y: 1603 }, { t: "D2", x: 265, y: 1696 }, { t: "D3", x: 265, y: 1796 },
  { t: "D4", x: 280, y: 1943 }, { t: "D5", x: 285, y: 2034 }, { t: "D6", x: 285, y: 2156 },
];
const refLabels = [
  { t: "P3HT", x: 1939, y: 844 }, { t: "P3HT(DIO)", x: 2001, y: 1030 },
  { t: "PC70BM", x: 1984, y: 1155 }, { t: "PC70BM(DIO)", x: 1961, y: 1279 },
  { t: "P3HT", x: 1893, y: 2295 }, { t: "P3HT(DIO)", x: 1866, y: 2411 },
  { t: "PC70BM", x: 1835, y: 2519 }, { t: "PC70BM(DIO)", x: 1891, y: 2689 },
];

const toneColor: Record<string, string> = { d: "#22224a", m: "#50507e", l: "#9c9cb8" };

function buildOption(): any {
  const grids = panelTop.map((t, i) => ({
    left: FRAME_L,
    width: FRAME_R - FRAME_L,
    top: t,
    height: panelBottom[i] - t,
    containLabel: false,
  }));

  const xAxes: any[] = panelTop.map((_, i) => ({
    type: "value",
    gridIndex: i,
    position: "bottom",
    min: X_MIN,
    max: X_MAX,
    inverse: true,
    axisLine: { show: false },
    splitLine: { show: false },
    axisTick:
      i === 3
        ? { show: true, inside: false, length: 22, lineStyle: { color: "#000", width: 3 }, customValues: majorTicks.map(xv) }
        : { show: false },
    axisLabel:
      i === 3
        ? {
            show: true,
            customValues: majorTicks.map(xv),
            formatter: (v: number) => String(Math.round(v >= 2734 ? v : v - GAP_SHIFT)),
            fontSize: 66,
            fontFamily: NARROW,
            color: "#000",
            margin: 32,
          }
        : { show: false },
  }));
  xAxes.push({
    type: "value",
    gridIndex: 3,
    position: "bottom",
    min: X_MIN,
    max: X_MAX,
    inverse: true,
    axisLine: { show: false },
    splitLine: { show: false },
    axisLabel: { show: false },
    axisTick: { show: true, inside: false, length: 12, lineStyle: { color: "#000", width: 3 }, customValues: minorTicks.map(xv) },
  });

  const yAxes: any[] = [];
  panelTop.forEach((_, i) => {
    ["left", "right"].forEach((pos) => {
      yAxes.push({
        type: "value",
        gridIndex: i,
        position: pos,
        min: 0,
        max: panelMax[i],
        interval: tickStep[i],
        axisLine: { show: false },
        axisLabel: { show: false },
        splitLine: { show: false },
        axisTick: { show: true, inside: true, length: 22, lineStyle: { color: "#000", width: 3 } },
        minorTick: { show: true, splitNumber: 2, length: 12, lineStyle: { color: "#000", width: 3 } },
      });
    });
  });

  const series: any[] = [];

  // dashed peak guide lines (one carrier series per panel)
  panelTop.forEach((_, i) => {
    series.push({
      type: "line",
      xAxisIndex: i,
      yAxisIndex: i * 2,
      data: [],
      silent: true,
      z: 1,
      markLine: {
        silent: true,
        symbol: ["none", "none"],
        label: { show: false },
        animation: false,
        lineStyle: { type: [8, 6], width: 2 },
        data: peakLines.map((w, k) => {
          const len = peakLabelText[k].length;
          const bottomPx = peakLabelTop[k] + 0.456 * PEAK_FONT * len + 6;
          const topVal = i === 0 ? (761 - bottomPx) * P0_SCALE : panelMax[i];
          return [
            { coord: [xv(w), topVal], lineStyle: { color: toneColor[peakTone[k]], type: [8, 6], width: 2 } },
            { coord: [xv(w), 0] },
          ];
        }),
      },
    });
  });

  spectra.forEach((s) => {
    [s.L, s.R].forEach((seg) => {
      series.push({
        type: "line",
        xAxisIndex: s.grid,
        yAxisIndex: s.grid * 2,
        data: seg.map(([w, v]) => [xv(w), v]),
        symbol: "none",
        showSymbol: false,
        silent: true,
        z: 3,
        lineStyle: { color: s.color, width: CURVE_WIDTH, join: "round" },
        itemStyle: { color: s.color },
      });
    });
  });

  // peak labels at the top of panel P0
  series.push({
    type: "scatter",
    xAxisIndex: 0,
    yAxisIndex: 0,
    symbolSize: 1,
    silent: true,
    z: 5,
    itemStyle: { color: "rgba(0,0,0,0)" },
    label: { show: true, position: "inside", fontSize: PEAK_FONT, fontWeight: "bold", fontFamily: NARROW, color: "#000" },
    data: peakLabelText.map((t, i) => ({
      value: [xv(peakLabelPos[i]), (761 - peakLabelTop[i]) * P0_SCALE],
      label: {
        show: true,
        formatter: t,
        rotate: peakLabelDown[i] ? -90 : 90,
        align: peakLabelDown[i] ? "left" : "right",
        verticalAlign: "middle",
      },
    })),
  });

  // ---------- graphic: frame with axis breaks, texts ----------
  const g: any[] = [];
  const ln = (x1: number, y1: number, x2: number, y2: number, w = 4) => ({
    type: "line",
    z: 50,
    silent: true,
    shape: { x1, y1, x2, y2 },
    style: { stroke: "#000", lineWidth: w },
  });
  const hLines = [50, 761, 1478, 1535, 2250, 2966];
  hLines.forEach((y) => {
    g.push(ln(FRAME_L - 2, y, 686, y));
    g.push(ln(728, y, FRAME_R + 2, y));
    g.push(ln(665, y + 25, 707, y - 23, 3.5));
    g.push(ln(707, y + 25, 749, y - 23, 3.5));
  });
  g.push(ln(FRAME_L, 50, FRAME_L, 1478));
  g.push(ln(FRAME_R, 50, FRAME_R, 1478));
  g.push(ln(FRAME_L, 1535, FRAME_L, 2966));
  g.push(ln(FRAME_R, 1535, FRAME_R, 2966));

  sampleLabels.forEach((s) => {
    g.push({
      type: "rect",
      z: 40,
      silent: true,
      shape: { x: s.x - 9, y: s.y - 30, width: 108, height: 60 },
      style: { fill: "#fff" },
    });
    g.push({
      type: "text",
      z: 60,
      silent: true,
      x: s.x,
      y: s.y,
      style: { text: s.t, fontSize: 68, fontWeight: "bold", fontFamily: FONT, fill: "#000", align: "left", verticalAlign: "middle" },
    });
  });

  g.push({
    type: "text", z: 60, silent: true, x: 194, y: 813,
    style: { text: "MAPLE (M)", fontSize: 70, fontWeight: "bold", fontFamily: FONT, fill: "#000", align: "left", verticalAlign: "middle" },
  });
  g.push({
    type: "text", z: 60, silent: true, x: 194, y: 2292,
    style: { text: "Drop-cast (D)", fontSize: 70, fontWeight: "bold", fontFamily: FONT, fill: "#000", align: "left", verticalAlign: "middle" },
  });
  refLabels.forEach((r) => {
    g.push({
      type: "text", z: 60, silent: true, x: r.x, y: r.y,
      style: { text: r.t, fontSize: 70, fontFamily: FONT, fill: "#000", align: "center", verticalAlign: "middle" },
    });
  });

  g.push({
    type: "text", z: 60, silent: true, x: 95, y: 1518, rotation: Math.PI / 2,
    style: { text: "Transmittance(a.u.)", fontSize: 106, fontFamily: FONT, fill: "#000", align: "center", verticalAlign: "middle" },
  });
  g.push({
    type: "text", z: 60, silent: true, x: 1415, y: 3165,
    style: {
      text: "Wavenumber (cm{sup|\u22121})",
      fontSize: 106,
      fontFamily: FONT,
      fill: "#000",
      align: "center",
      verticalAlign: "middle",
      rich: {
        sup: { fontSize: 62, fontFamily: FONT, fill: "#000", verticalAlign: "top" },
      },
    },
  });

  return {
    animation: false,
    backgroundColor: "#ffffff",
    grid: grids,
    xAxis: xAxes,
    yAxis: yAxes,
    series,
    graphic: { elements: g },
  };
}

export default function App() {
  const ref = useRef<HTMLDivElement>(null);
  useEffect(() => {
    if (!ref.current) return;
    const chart = echarts.init(ref.current, null, { renderer: "svg", width: W, height: H });
    chart.setOption(buildOption());
    return () => chart.dispose();
  }, []);
  return (
    <div
      ref={ref}
      style={{ position: "absolute", left: 0, top: 0, width: W, height: H, background: "#fff" }}
    />
  );
}
